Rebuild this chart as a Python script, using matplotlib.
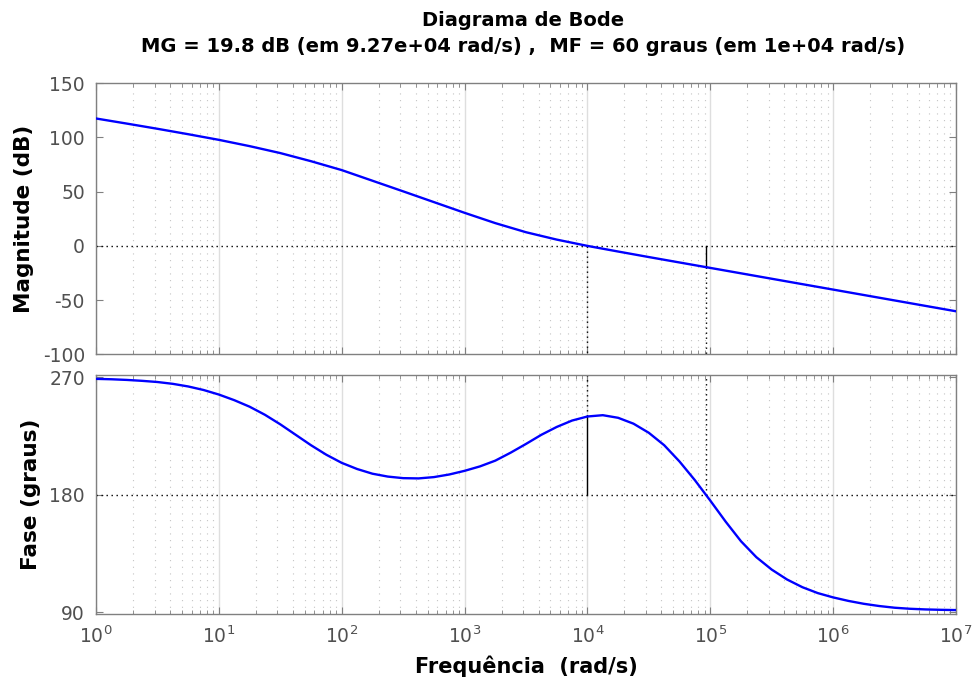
import numpy as np
import matplotlib
matplotlib.use("Agg")
import matplotlib.pyplot as plt
from matplotlib.ticker import FixedLocator, NullFormatter, LogFormatterMathtext

plt.rcParams['font.family'] = ['DejaVu Sans']
plt.rcParams['mathtext.fontset'] = 'dejavusans'

w_mag = [1.0, 1.778, 3.162, 5.623, 10.0, 17.78, 31.62, 56.23, 100.0,
         177.8, 316.2, 562.3, 1e3, 1778.0, 3162.0, 5623.0, 1e4,
         1.778e4, 3.162e4, 5.623e4, 1e5, 1.778e5, 3.162e5, 5.623e5,
         1e6, 1.778e6, 3.162e6, 5.623e6, 1e7]
mag_db = [117.5, 112.8, 108.0, 103.0, 97.8, 92.0, 85.6, 78.1, 69.9,
          60.1, 50.3, 40.4, 30.5, 21.0, 12.6, 5.8, 0.0,
          -5.2, -10.3, -15.3, -20.3, -25.3, -30.3, -35.3,
          -40.3, -45.3, -50.3, -55.3, -60.3]

w_fase = [1.0, 1.334, 1.778, 2.371, 3.162, 4.217, 5.623, 7.499,
          10.0, 13.34, 17.78, 23.71, 31.62, 42.17, 56.23, 74.99,
          100.0, 133.4, 177.8, 237.1, 316.2, 421.7, 562.3, 749.9,
          1e3, 1334.0, 1778.0, 2371.0, 3162.0, 4217.0, 5623.0, 7499.0,
          1e4, 1.334e4, 1.778e4, 2.371e4, 3.162e4, 4.217e4, 5.623e4, 7.499e4,
          1e5, 1.334e5, 1.778e5, 2.371e5, 3.162e5, 4.217e5, 5.623e5, 7.499e5,
          1e6, 1.334e6, 1.778e6, 2.371e6, 3.162e6, 4.217e6, 5.623e6, 7.499e6,
          1e7]
fase = [268.8, 268.5, 268.0, 267.3, 266.4, 265.0, 263.0, 260.3,
        256.8, 252.5, 247.5, 241.3, 234.0, 226.0, 218.0, 210.7,
        204.5, 199.8, 196.2, 194.0, 192.8, 192.6, 193.6, 195.6,
        198.4, 201.8, 206.2, 212.3, 219.0, 226.0, 232.0, 236.9,
        240.0, 241.0, 239.0, 234.5, 227.5, 218.0, 205.5, 191.2,
        175.6, 159.5, 144.5, 132.3, 122.8, 115.2, 109.3, 104.8,
        101.5, 98.8, 96.6, 94.9, 93.6, 92.8, 92.3, 92.0,
        91.8]

# Margens
w_mg = 9.27e4
mg_db = 19.8
w_mf = 1e4
mf = 60

decadas = [10.0 ** k for k in range(8)]
sub_decadas = [m * 10.0 ** k for k in range(7) for m in range(2, 10)]

fig = plt.figure(figsize=(9.74, 6.88), dpi=100)
ax1 = fig.add_axes([0.0986, 0.485, 0.8829, 0.394])
ax2 = fig.add_axes([0.0986, 0.107, 0.8829, 0.348])

tick_gray = '#505050'
spine_gray = '#808080'
dot = (0, (1, 2.6))

for ax in (ax1, ax2):
    ax.set_xscale('log')
    ax.set_xlim(1, 1e7)
    ax.xaxis.set_major_locator(FixedLocator(decadas))
    ax.xaxis.set_major_formatter(LogFormatterMathtext())
    ax.xaxis.set_minor_locator(FixedLocator(sub_decadas))
    ax.xaxis.set_minor_formatter(NullFormatter())
    ax.grid(True, which='major', axis='x', color='#dedede', lw=1.0, ls='-')
    ax.grid(True, which='minor', axis='x', color='#c4c4c4', lw=0.8, ls=(0, (1, 5)))
    ax.tick_params(which='both', direction='in', top=True, right=True,
                   colors=spine_gray, labelcolor=tick_gray, labelsize=13.5)
    ax.tick_params(which='major', length=5)
    ax.tick_params(which='minor', length=3)
    ax.tick_params(axis='y', pad=8)
    for s in ax.spines.values():
        s.set_color(spine_gray)
        s.set_linewidth(1.0)
    ax.set_axisbelow(True)

# Magnitude
ax1.plot(w_mag, mag_db, color='#0000ff', lw=1.7, zorder=3, solid_joinstyle='round')
ax1.axhline(0, color='black', lw=1.0, ls=dot, zorder=2)
ax1.plot([w_mf, w_mf], [0, -100], color='black', lw=1.0, ls=dot, zorder=2)
ax1.plot([w_mg, w_mg], [-mg_db, -100], color='black', lw=1.0, ls=dot, zorder=2)
ax1.plot([w_mg, w_mg], [0, -mg_db], color='black', lw=1.0, zorder=2)
ax1.set_ylim(-100, 150)
ax1.set_yticks([-100, -50, 0, 50, 100, 150])
ax1.set_yticklabels(['-100', '-50', '0', '50', '100', '150'])
ax1.tick_params(labelbottom=False)
ax1.set_ylabel('Magnitude (dB)', fontsize=15.5, fontweight='bold', labelpad=6)

# Fase
ax2.plot(w_fase, fase, color='#0000ff', lw=1.7, zorder=3, solid_joinstyle='round')
ax2.axhline(180, color='black', lw=1.0, ls=dot, zorder=2)
ax2.plot([w_mf, w_mf], [180 + mf, 275], color='black', lw=1.0, ls=dot, zorder=2)
ax2.plot([w_mf, w_mf], [180, 180 + mf], color='black', lw=1.0, zorder=2)
ax2.plot([w_mg, w_mg], [180, 275], color='black', lw=1.0, ls=dot, zorder=2)
ax2.set_ylim(88.5, 271.8)
ax2.yaxis.set_major_locator(FixedLocator([90, 180, 270]))
ax2.set_ylabel('Fase (graus)', fontsize=15.5, fontweight='bold', labelpad=6)
ax2.set_xlabel('Frequência  (rad/s)', fontsize=15, fontweight='bold', labelpad=6)
ax2.tick_params(axis='x', pad=8)

fig.text(0.5373, 1 - 20 / 688, 'Diagrama de Bode', ha='center', va='center',
         fontsize=14, fontweight='bold')
fig.text(0.5373, 1 - 46 / 688,
         'MG = 19.8 dB (em 9.27e+04 rad/s) ,  MF = 60 graus (em 1e+04 rad/s)',
         ha='center', va='center', fontsize=14, fontweight='bold')

fig.savefig('out.png', dpi=100)
